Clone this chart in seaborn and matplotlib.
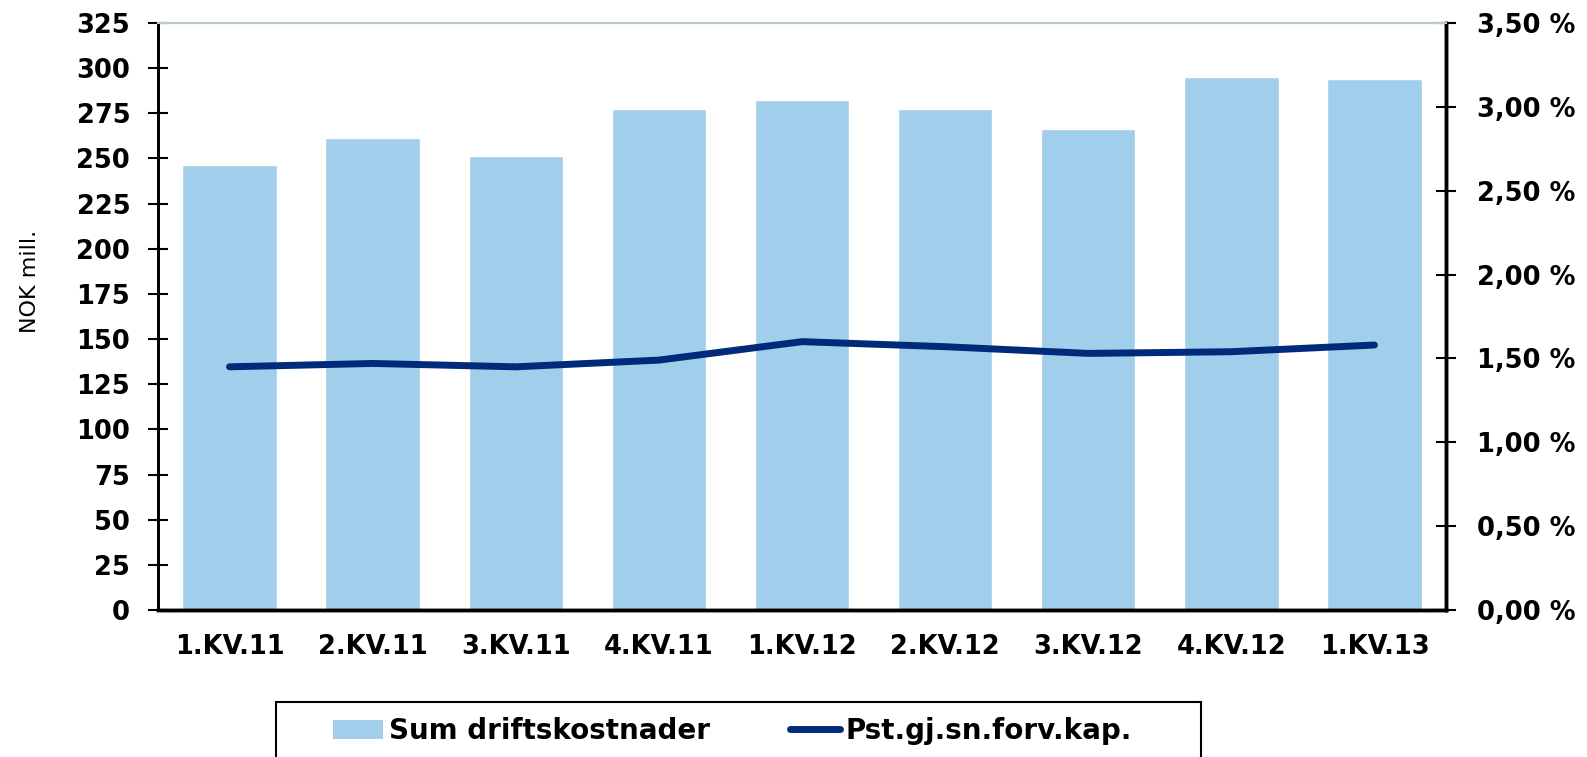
import numpy as np
import matplotlib
matplotlib.use("Agg")
import matplotlib.pyplot as plt
import seaborn as sns
from matplotlib.patches import Patch, Rectangle
from matplotlib.lines import Line2D
from matplotlib.ticker import FixedLocator, FuncFormatter

# quarterly values
quarters = ["1.KV.11", "2.KV.11", "3.KV.11", "4.KV.11", "1.KV.12",
            "2.KV.12", "3.KV.12", "4.KV.12", "1.KV.13"]
driftskostnader = [246.5, 261.5, 251.5, 277.5, 282.5, 277.5, 266.5, 295, 294]
pst_forv_kap = [1.45, 1.47, 1.45, 1.49, 1.60, 1.57, 1.53, 1.54, 1.58]

bar_color = "#A0CEEB"
line_color = "#002A7A"

sns.set_style("white")
plt.rcParams["font.family"] = ["DejaVu Sans"]
plt.rcParams["text.color"] = "black"
plt.rcParams["axes.labelcolor"] = "black"

W, H = 1587, 757
fig = plt.figure(figsize=(W / 100, H / 100), dpi=100)
ax = fig.add_axes([158 / W, 1 - 610 / H, (1446 - 158) / W, (610 - 23) / H])

sns.barplot(x=quarters, y=driftskostnader, color=bar_color, width=0.66,
            saturation=1, ax=ax)
ax.set_xlim(-0.5, 8.5)
ax.set_ylim(0, 325)
ax.set_yticks(np.arange(0, 326, 25))
ax.set_ylabel("")
ax.set_xlabel("")
fig.text(30 / W, 1 - 281 / H, "NOK mill.", rotation=90, fontsize=16,
         ha="center", va="center", color="black")

ax2 = ax.twinx()
sns.lineplot(x=np.arange(len(quarters)), y=pst_forv_kap, color=line_color,
             linewidth=5, ax=ax2, solid_capstyle="round")
ax2.set_ylim(0, 3.5)
ax2.set_yticks(np.arange(0, 3.51, 0.5))
ax2.yaxis.set_major_formatter(FuncFormatter(lambda v, p: f"{v:.2f} %".replace(".", ",")))
ax2.set_xlim(-0.5, 8.5)

# ticks sit between the categories on the x axis
ax.xaxis.set_minor_locator(FixedLocator(np.arange(-0.5, 8.6, 1)))
tick_kw = dict(length=14, width=1.5, direction="inout", color="black", labelcolor="black")
ax.tick_params(axis="x", which="major", length=0, pad=17, labelsize=18.5, labelcolor="black")
ax.tick_params(axis="x", which="minor", **tick_kw)
ax.tick_params(axis="y", labelsize=18.5, pad=13, **tick_kw)
ax2.tick_params(axis="y", labelsize=18.5, pad=15, **tick_kw)
for lab in ax.get_xticklabels() + ax.get_yticklabels() + ax2.get_yticklabels():
    lab.set_fontweight("bold")

for a in (ax, ax2):
    a.spines["left"].set_color("black")
    a.spines["left"].set_linewidth(2)
    a.spines["right"].set_color("black")
    a.spines["right"].set_linewidth(2.5)
    a.spines["bottom"].set_color("black")
    a.spines["bottom"].set_linewidth(2.5)
    a.spines["top"].set_color("#B8CBD3")
    a.spines["top"].set_linewidth(1.5)
    a.grid(False)

# legend box runs off the bottom edge, as in the original
fig.patches.append(Rectangle((276 / W, -0.02), (1201 - 276) / W, 1 - 702 / H + 0.02,
                             transform=fig.transFigure, facecolor="white",
                             edgecolor="black", linewidth=1.5, zorder=0))
handles = [Patch(facecolor=bar_color, edgecolor="none", label="Sum driftskostnader"),
           Line2D([0], [0], color=line_color, linewidth=5, solid_capstyle="round",
                  label="Pst.gj.sn.forv.kap.")]
leg = fig.legend(handles=handles, loc="upper left", bbox_to_anchor=(333 / W, 1 - 717 / H),
                 ncol=2, frameon=False, prop={"size": 20, "weight": "bold"},
                 handlelength=1.8, handleheight=0.65, handletextpad=0.2,
                 columnspacing=2.9, borderpad=0, borderaxespad=0)

fig.savefig("out.png", dpi=100)
